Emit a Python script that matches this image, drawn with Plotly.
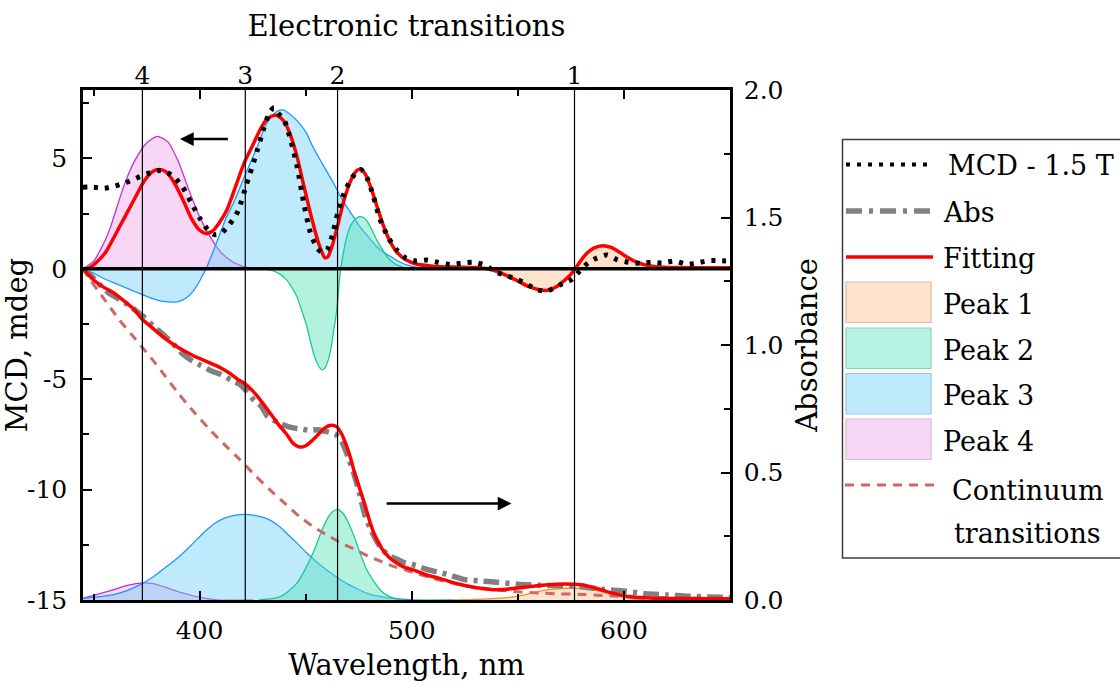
import plotly.graph_objects as go

# ---------------- data ----------------
# MCD, measured (mdeg, left axis)
mcd_wl = [345, 350, 355, 360, 365, 370, 375, 380, 384, 388, 392, 396, 400, 404, 407, 410, 414, 418, 422,
          426, 430, 433, 435, 437, 440, 443, 446, 449, 452, 455, 457.5, 460, 462.5, 465, 468, 471, 474, 476,
          479, 482, 485, 489, 493, 497, 502, 507, 512, 518, 523, 529, 535, 539, 545, 550, 554, 559, 564,
          570, 575, 579, 583, 587, 592, 597, 602, 608, 613, 618, 624, 630, 635, 640, 645, 650]
mcd_val = [3.7, 3.7, 3.65, 3.75, 3.9, 4.1, 4.3, 4.45, 4.4, 4.15, 3.7, 3.0, 2.3, 1.75, 1.55, 1.6, 2.0, 2.6, 3.8,
           5.0, 6.3, 7.1, 7.3, 7.05, 6.7, 5.8, 4.6, 3.0, 1.7, 1.0, 0.75, 0.85, 1.5, 2.5, 3.4, 4.0, 4.4, 4.5,
           4.1, 3.25, 2.25, 1.4, 0.85, 0.5, 0.35, 0.4, 0.3, 0.2, 0.25, 0.3, 0.15, -0.12, -0.32, -0.5, -0.68,
           -0.95, -1.0, -0.72, -0.5, -0.12, 0.26, 0.48, 0.63, 0.41, 0.3, 0.25, 0.3, 0.26, 0.35, 0.2, 0.28,
           0.37, 0.37, 0.35]

# MCD, fitting
fitm_wl = [345, 348, 352, 356, 360, 365, 370, 374, 378, 381, 384, 388, 392, 396, 400, 403, 406, 409, 413,
           417, 421, 425, 429, 432, 435, 437, 440, 443, 446, 449, 452, 455, 457, 459, 460.5, 462.5, 465,
           468, 471, 474, 476, 478, 481, 484, 487, 490, 493, 497, 502, 510, 520, 530, 536, 540, 545, 550,
           555, 560, 564, 568, 572, 575, 577, 580, 583, 586, 590, 594, 598, 602, 606, 610, 615, 625, 650]
fitm_val = [0, 0.05, 0.35, 0.8, 1.5, 2.4, 3.3, 4.0, 4.42, 4.5, 4.4, 3.9, 3.15, 2.3, 1.75, 1.6, 1.7, 2.05,
            2.7, 3.75, 4.8, 5.6, 6.4, 6.8, 6.95, 6.93, 6.65, 6.0, 5.05, 3.8, 2.6, 1.5, 0.9, 0.5, 0.55, 1.05,
            1.95, 3.1, 3.95, 4.45, 4.5, 4.3, 3.6, 2.7, 1.85, 1.2, 0.75, 0.42, 0.22, 0.12, 0.08, 0.06, 0.0,
            -0.12, -0.32, -0.55, -0.8, -0.95, -0.97, -0.82, -0.52, -0.25, 0.0, 0.42, 0.75, 0.95, 1.05, 0.97,
            0.75, 0.5, 0.3, 0.18, 0.1, 0.06, 0.05]

# MCD components
p1m_wl = [528, 535, 540, 545, 550, 555, 560, 564, 568, 572, 575, 577, 580, 583, 586, 590, 594, 598, 602,
          606, 610, 615, 620]
p1m_val = [0, -0.03, -0.12, -0.32, -0.55, -0.8, -0.95, -0.97, -0.82, -0.52, -0.25, 0.0, 0.42, 0.75, 0.95,
           1.02, 0.95, 0.73, 0.48, 0.28, 0.14, 0.05, 0.0]
p2m_wl = [430, 435, 438, 441, 443.5, 445.8, 448, 450.5, 452, 453.6, 455.5, 457.5, 459, 460.7, 462, 463,
          464, 465, 465.8, 466.5, 467.5, 469.3, 471.7, 474, 475.6, 477.5, 479, 481, 483.5, 486, 488.2, 491,
          493, 497.5, 502]
p2m_val = [0, -0.1, -0.25, -0.5, -0.85, -1.25, -1.85, -2.6, -3.2, -3.8, -4.3, -4.57, -4.5, -4.1, -3.55,
           -2.9, -2.3, -1.5, -0.6, 0.0, 0.6, 1.45, 2.05, 2.3, 2.37, 2.3, 2.15, 1.8, 1.3, 0.9, 0.56, 0.3,
           0.18, 0.03, 0]
p3m_wl = [345, 350, 355, 360, 365, 370, 375, 380, 385, 390, 394, 397, 400, 403, 406, 409, 412, 416, 421,
          427, 431.6, 436, 439, 442, 446, 450, 453, 456.7, 460, 463, 466, 469.3, 472.5, 475.6, 479.5,
          483.5, 487.5, 491.3, 494.5, 497.6, 502, 508]
p3m_val = [0, -0.2, -0.45, -0.65, -0.85, -1.05, -1.25, -1.42, -1.5, -1.48, -1.3, -1.0, -0.55, 0.0, 0.7,
           1.45, 2.2, 3.0, 4.15, 5.5, 6.6, 7.1, 7.2, 7.05, 6.7, 6.2, 5.6, 4.95, 4.4, 3.9, 3.35, 2.82, 2.35,
           1.9, 1.45, 1.0, 0.7, 0.48, 0.3, 0.18, 0.08, 0.02]
p4m_wl = [345, 350, 355, 358, 360, 365, 370, 375, 380, 385, 390, 395, 400, 405, 410, 415, 420, 425]
p4m_val = [0, 0.35, 1.2, 1.9, 2.5, 3.95, 5.0, 5.7, 6.0, 5.75, 4.85, 3.55, 2.35, 1.45, 0.75, 0.35, 0.12, 0.0]

# Absorbance, measured (right axis)
abs_wl = [345, 349, 353, 357, 361, 365, 369, 373, 378, 383, 388, 392, 396, 400, 405, 410, 415, 419, 422,
          426, 429, 432, 436, 440, 444, 448, 452, 456, 460, 464, 467, 470, 472.5, 475, 478, 481, 485, 489,
          493, 497, 502, 507, 512, 517, 525, 532, 540, 550, 560, 570, 580, 590, 600, 610, 620, 630, 640, 650]
abs_val = [1.30, 1.27, 1.235, 1.205, 1.185, 1.165, 1.14, 1.115, 1.075, 1.04, 1.0, 0.965, 0.94, 0.922,
           0.90, 0.884, 0.862, 0.845, 0.82, 0.78, 0.76, 0.72, 0.70, 0.685, 0.675, 0.67, 0.665, 0.668, 0.66,
           0.65, 0.62, 0.56, 0.50, 0.43, 0.33, 0.27, 0.21, 0.175, 0.16, 0.145, 0.135, 0.12, 0.11, 0.10,
           0.08, 0.075, 0.07, 0.062, 0.058, 0.056, 0.052, 0.042, 0.035, 0.025, 0.02, 0.015, 0.012, 0.01]

# Absorbance, fitting
fita_wl = [345, 350, 355, 359, 364, 369, 373, 378, 383, 388, 392, 397, 402, 406, 410, 414, 418, 421, 425,
           429, 433, 437, 441, 444, 447, 450, 453, 456, 459, 462, 464.5, 467, 469, 471, 473, 475.5, 478,
           480.5, 483, 486, 489, 492, 496, 501, 507, 513, 520, 526, 533, 540, 548, 556, 564, 572, 580, 586,
           592, 598, 604, 612, 625, 650]
fita_val = [1.30, 1.255, 1.225, 1.207, 1.175, 1.14, 1.10, 1.065, 1.03, 1.0, 0.98, 0.958, 0.94, 0.925,
            0.91, 0.89, 0.865, 0.85, 0.82, 0.78, 0.735, 0.69, 0.65, 0.615, 0.60, 0.605, 0.625, 0.65, 0.675,
            0.685, 0.68, 0.65, 0.61, 0.56, 0.50, 0.435, 0.37, 0.30, 0.245, 0.20, 0.17, 0.15, 0.13, 0.117,
            0.098, 0.085, 0.067, 0.055, 0.045, 0.04, 0.045, 0.053, 0.06, 0.063, 0.06, 0.048, 0.033, 0.02,
            0.012, 0.008, 0.006, 0.005]

# Continuum transitions
cont_wl = [345, 348, 355, 362, 368, 373, 379, 384, 390, 397, 404, 411, 419, 426, 433, 440, 447, 454, 461,
           467, 474, 480, 486, 492, 500, 510, 520, 530, 540, 550, 560, 570, 580, 590, 600, 615, 630, 650]
cont_val = [1.30, 1.26, 1.18, 1.10, 1.04, 0.99, 0.93, 0.875, 0.81, 0.74, 0.675, 0.615, 0.55, 0.49, 0.433,
            0.38, 0.328, 0.285, 0.25, 0.222, 0.195, 0.17, 0.15, 0.13, 0.11, 0.085, 0.065, 0.05, 0.04,
            0.032, 0.027, 0.024, 0.022, 0.018, 0.014, 0.01, 0.007, 0.005]

# Absorbance components
p1a_wl = [520, 530, 540, 548, 555, 561, 567, 573, 578, 583, 588, 593, 598, 603, 610]
p1a_val = [0.0, 0.002, 0.006, 0.012, 0.024, 0.036, 0.043, 0.046, 0.046, 0.043, 0.036, 0.025, 0.014, 0.005, 0.0]
p2a_wl = [428, 434, 438, 442, 446, 450, 454, 457, 460, 462.5, 465, 467.5, 470, 473, 476, 479, 482, 485,
          488, 492, 496]
p2a_val = [0.0, 0.005, 0.013, 0.035, 0.068, 0.125, 0.195, 0.26, 0.316, 0.345, 0.355, 0.34, 0.305, 0.245,
           0.175, 0.115, 0.075, 0.04, 0.02, 0.005, 0.0]
p3a_wl = [345, 352, 359, 366, 372, 378, 384, 390, 396, 402, 407, 412, 417, 422, 427, 432, 437, 441, 446,
          450.5, 455, 460, 465, 469, 474, 479, 484, 490, 496, 500, 520]
p3a_val = [0.006, 0.012, 0.02, 0.038, 0.06, 0.09, 0.128, 0.168, 0.215, 0.265, 0.3, 0.322, 0.333, 0.336,
           0.33, 0.318, 0.292, 0.262, 0.222, 0.184, 0.15, 0.117, 0.088, 0.066, 0.045, 0.026, 0.015, 0.007,
           0.003, 0.0, 0.0]
p4a_wl = [345, 350, 355, 360, 365, 370, 374, 378, 383, 388, 393, 398, 403, 408, 425]
p4a_val = [0.007, 0.018, 0.03, 0.042, 0.055, 0.064, 0.067, 0.064, 0.052, 0.038, 0.025, 0.014, 0.006, 0.0, 0.0]

# Electronic transitions (top axis)
trans_wl = [373, 421.5, 465, 576.7]
trans_labels = ["4", "3", "2", "1"]

peak_names = ["Peak 1", "Peak 2", "Peak 3", "Peak 4"]

# ---------------- styles ----------------
FONT = "DejaVu Serif"
peak_fill = ["rgba(251,190,142,0.45)", "rgba(88,226,186,0.45)", "rgba(111,208,248,0.45)",
             "rgba(240,164,235,0.45)"]
peak_line = ["rgb(255,140,30)", "rgb(30,200,150)", "rgb(30,150,255)", "rgb(190,50,210)"]
legend_fill = ["rgb(253,226,205)", "rgb(181,243,226)", "rgb(191,234,251)", "rgb(248,214,246)"]
legend_edge = ["rgb(215,185,165)", "rgb(150,205,190)", "rgb(155,200,215)", "rgb(215,185,210)"]
RED = "rgb(255,0,0)"
GRAY = "rgb(128,128,128)"
CONT = "rgb(205,105,100)"
MCD_DASH = "4px,7px"
ABS_DASH = "16px,6px,4px,6px"
CONT_DASH = "9px,7px"

fig = go.Figure()

mcd_parts = [(p1m_wl, p1m_val), (p2m_wl, p2m_val), (p3m_wl, p3m_val), (p4m_wl, p4m_val)]
abs_parts = [(p1a_wl, p1a_val), (p2a_wl, p2a_val), (p3a_wl, p3a_val), (p4a_wl, p4a_val)]

for i in [3, 2, 1, 0]:
    wl, val = abs_parts[i]
    fig.add_trace(go.Scatter(x=wl, y=val, yaxis="y2", mode="lines", fill="tozeroy",
                             fillcolor=peak_fill[i], line=dict(color=peak_line[i], width=1.3, shape="spline", smoothing=0.6),
                             name=peak_names[i], showlegend=False))
for i in [3, 2, 1, 0]:
    wl, val = mcd_parts[i]
    fig.add_trace(go.Scatter(x=wl, y=val, mode="lines", fill="tozeroy",
                             fillcolor=peak_fill[i], line=dict(color=peak_line[i], width=1.3, shape="spline", smoothing=0.6),
                             name=peak_names[i], showlegend=False))

fig.add_trace(go.Scatter(x=cont_wl, y=cont_val, yaxis="y2", mode="lines", name="Continuum transitions",
                         line=dict(color=CONT, width=3, dash=CONT_DASH, shape="spline", smoothing=0.6),
                         showlegend=False))
fig.add_trace(go.Scatter(x=abs_wl, y=abs_val, yaxis="y2", mode="lines", name="Abs",
                         line=dict(color=GRAY, width=5.5, dash=ABS_DASH, shape="spline", smoothing=0.6),
                         showlegend=False))
fig.add_trace(go.Scatter(x=fita_wl, y=fita_val, yaxis="y2", mode="lines", name="Fitting",
                         line=dict(color=RED, width=3.5, shape="spline", smoothing=0.6), showlegend=False))
fig.add_trace(go.Scatter(x=fitm_wl, y=fitm_val, mode="lines", name="Fitting",
                         line=dict(color=RED, width=3.5, shape="spline", smoothing=0.6), showlegend=False))
fig.add_trace(go.Scatter(x=mcd_wl, y=mcd_val, mode="lines", name="MCD - 1.5 T",
                         line=dict(color="black", width=5, dash=MCD_DASH, shape="spline", smoothing=0.6),
                         showlegend=False))
# invisible trace on the top axis so that it is drawn
fig.add_trace(go.Scatter(x=trans_wl, y=[0] * len(trans_wl), xaxis="x2", mode="markers",
                         marker=dict(opacity=0), hoverinfo="skip", showlegend=False))

# ---------------- shapes: zero line, transition lines ----------------
shapes = [dict(type="line", xref="paper", yref="y", x0=0, x1=1, y0=0, y1=0,
               line=dict(color="black", width=3.5), layer="above")]
for w in trans_wl:
    shapes.append(dict(type="line", xref="x", yref="paper", x0=w, x1=w, y0=0, y1=1,
                       line=dict(color="black", width=1.2), layer="above"))

# ---------------- manual legend ----------------
L, T_, W, H = 83, 90, 647, 510  # plot area in px


def px(xp):
    return (xp - L) / W


def py(yp):
    return (T_ + H - yp) / H


LEGFONT = dict(family=FONT, size=27, color="black")
annotations = []
shapes.append(dict(type="rect", xref="paper", yref="paper", x0=px(842.5), x1=px(1130),
                   y0=py(558), y1=py(139.5), line=dict(color="rgb(60,60,60)", width=1.5),
                   fillcolor="white", layer="above"))
leg_lines = [("MCD - 1.5 T", 164.5, 946, dict(color="black", width=4, dash="4px,7px")),
             ("Abs", 211, 941, dict(color=GRAY, width=5.5, dash="16px,7px,4px,7px")),
             ("Fitting", 257, 941, dict(color=RED, width=3.5))]
for name, yy, tx, ln in leg_lines:
    shapes.append(dict(type="line", xref="paper", yref="paper", x0=px(846), x1=px(933),
                       y0=py(yy), y1=py(yy), line=ln, layer="above"))
    annotations.append(dict(xref="paper", yref="paper", x=px(tx), y=py(yy + 1), text=name,
                            showarrow=False, xanchor="left", yanchor="middle", font=LEGFONT))
rect_tops = [282, 328, 373.5, 419]
for i in range(4):
    t = rect_tops[i]
    shapes.append(dict(type="rect", xref="paper", yref="paper", x0=px(846), x1=px(931),
                       y0=py(t + 40.5), y1=py(t), fillcolor=legend_fill[i],
                       line=dict(color=legend_edge[i], width=1.2), layer="above"))
    annotations.append(dict(xref="paper", yref="paper", x=px(941), y=py(t + 22), text=peak_names[i],
                            showarrow=False, xanchor="left", yanchor="middle", font=LEGFONT))
shapes.append(dict(type="line", xref="paper", yref="paper", x0=px(845), x1=px(935),
                   y0=py(485), y1=py(485), line=dict(color=CONT, width=3, dash=CONT_DASH), layer="above"))
annotations.append(dict(xref="paper", yref="paper", x=px(950), y=py(490), text="Continuum",
                        showarrow=False, xanchor="left", yanchor="middle", font=LEGFONT))
annotations.append(dict(xref="paper", yref="paper", x=px(952), y=py(533), text="transitions",
                        showarrow=False, xanchor="left", yanchor="middle", font=LEGFONT))

# arrows indicating the axis of each data set
annotations.append(dict(x=390.7, y=5.88, xref="x", yref="y", ax=414, ay=5.88, axref="x", ayref="y",
                        text="", showarrow=True, arrowhead=2, arrowsize=1.1, arrowwidth=2.5,
                        arrowcolor="black"))
annotations.append(dict(x=547, y=0.378, xref="x", yref="y2", ax=487.4, ay=0.378, axref="x", ayref="y2",
                        text="", showarrow=True, arrowhead=2, arrowsize=1.1, arrowwidth=2.5,
                        arrowcolor="black"))

tickfont = dict(family=FONT, size=25, color="black")
titlefont = dict(family=FONT, size=29, color="black")

fig.update_layout(
    width=1120, height=682,
    margin=dict(l=83, r=390, t=90, b=82, autoexpand=False),
    plot_bgcolor="white", paper_bgcolor="white",
    showlegend=False,
    shapes=shapes, annotations=annotations,
    xaxis=dict(range=[345, 650], tickvals=[400, 500, 600], showgrid=False, zeroline=False,
               showline=True, linecolor="black", linewidth=2.5, mirror="ticks",
               ticks="inside", ticklen=9, tickwidth=2, tickcolor="black", tickfont=tickfont,
               ticklabelstandoff=6,
               minor=dict(tickvals=[350, 450, 550], ticks="inside", ticklen=6, tickwidth=2, tickcolor="black"),
               title=dict(text="Wavelength, nm", font=titlefont)),
    xaxis2=dict(range=[345, 650], overlaying="x", side="top", anchor="y", tickvals=trans_wl,
                ticktext=trans_labels, ticks="", showgrid=False, zeroline=False, showline=False,
                tickfont=tickfont, title=dict(text="Electronic transitions", font=titlefont)),
    yaxis=dict(range=[-15, 8.1], tickvals=[-15, -10, -5, 0, 5], ticktext=["-15", "-10", "-5", "0", "5"],
               showgrid=False, zeroline=False, showline=True, linecolor="black", linewidth=2.5,
               ticks="inside", ticklen=9, tickwidth=2, tickcolor="black", tickfont=tickfont,
               ticklabelstandoff=8,
               minor=dict(tickvals=[-12.5, -7.5, -2.5, 2.5, 7.5], ticks="inside", ticklen=6, tickwidth=2,
                          tickcolor="black"),
               title=dict(text="MCD, mdeg", font=titlefont)),
    yaxis2=dict(range=[0, 2.0], overlaying="y", side="right", anchor="x",
                tickvals=[0, 0.5, 1.0, 1.5, 2.0], ticktext=["0.0", "0.5", "1.0", "1.5", "2.0"],
                showgrid=False, zeroline=False, showline=True, linecolor="black", linewidth=2.5,
                ticks="inside", ticklen=9, tickwidth=2, tickcolor="black", tickfont=tickfont,
                ticklabelstandoff=6,
                minor=dict(tickvals=[0.25, 0.75, 1.25, 1.75], ticks="inside", ticklen=6, tickwidth=2,
                           tickcolor="black"),
                title=dict(text="Absorbance", font=titlefont)),
)

fig.write_html("out.html", config={"displayModeBar": False},
               post_script="document.body.style.margin='0';document.body.style.overflow='hidden';")
